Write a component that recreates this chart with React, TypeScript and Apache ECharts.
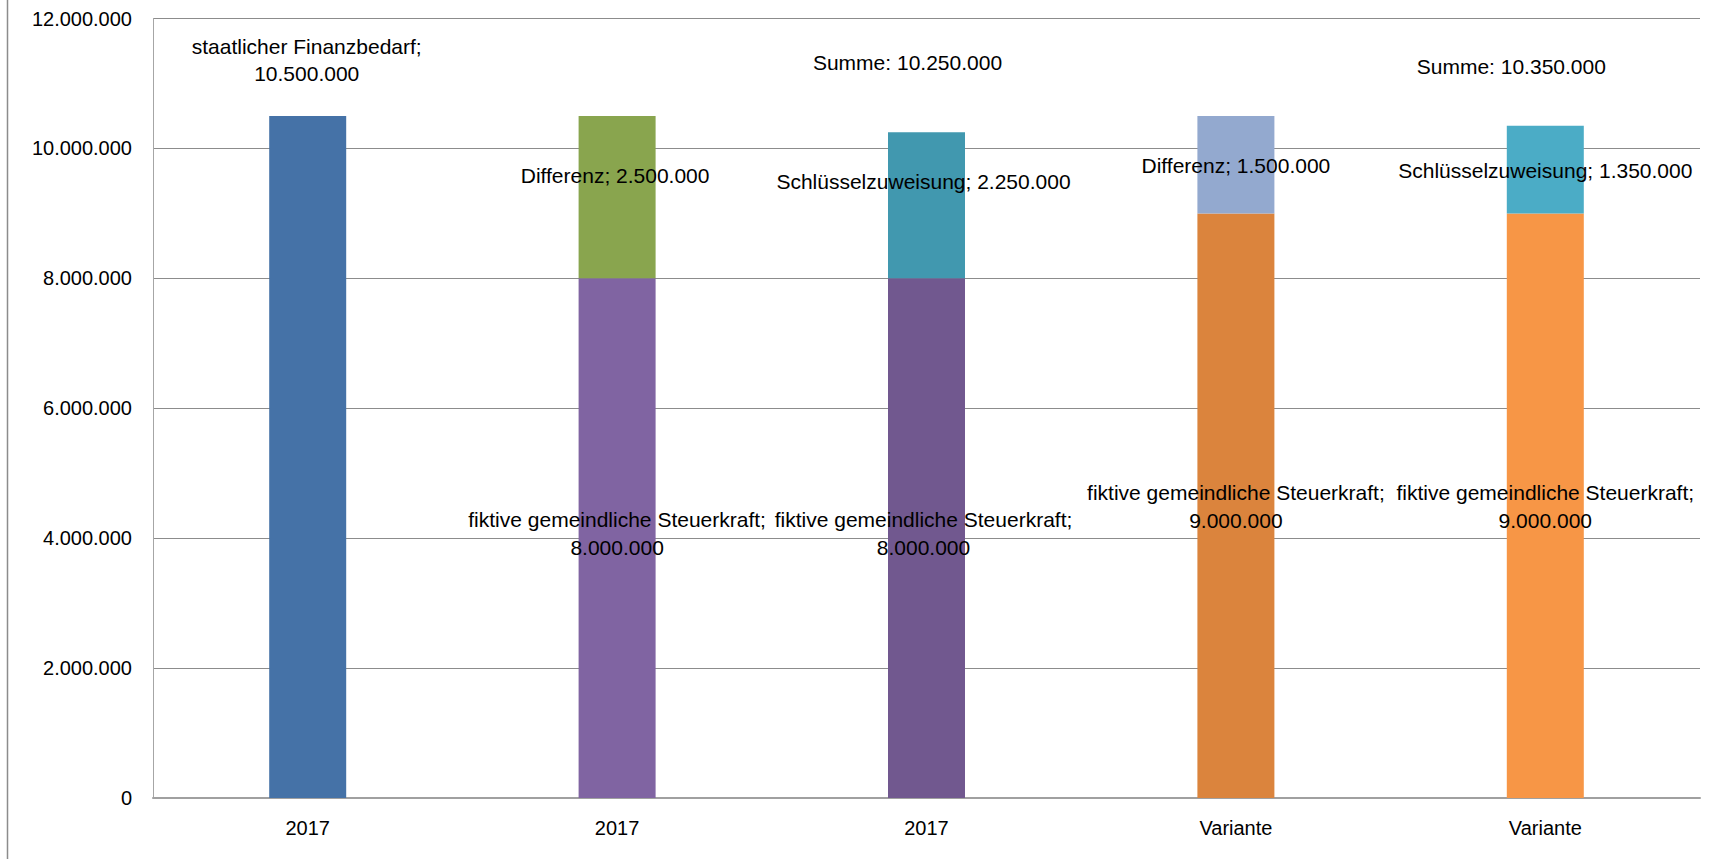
import React, { useEffect, useRef } from "react";
import * as echarts from "echarts";

const categories = ["2017", "2017", "2017", "Variante", "Variante"];

const baseNames = [
  "staatlicher Finanzbedarf",
  "fiktive gemeindliche Steuerkraft",
  "fiktive gemeindliche Steuerkraft",
  "fiktive gemeindliche Steuerkraft",
  "fiktive gemeindliche Steuerkraft",
];
const baseValues = [10500000, 8000000, 8000000, 9000000, 9000000];
const baseColors = ["#4572A7", "#8064A2", "#71588F", "#DB843D", "#F79646"];

const topNames = ["", "Differenz", "Schlüsselzuweisung", "Differenz", "Schlüsselzuweisung"];
const topValues: (number | null)[] = [null, 2500000, 2250000, 1500000, 1350000];
const topColors = ["#4572A7", "#89A54E", "#4198AF", "#93A9CF", "#4BACC6"];

const sumShown = [false, false, true, false, true];

const yTicks = [0, 2000000, 4000000, 6000000, 8000000, 10000000, 12000000];

const FONT = "'Liberation Sans', Arial, sans-serif";

const fmt = (v: number) => String(Math.round(v)).replace(/\B(?=(\d{3})+(?!\d))/g, ".");

const baseLabelOffsets: [number, number][] = [[-1, 0], [0, -5], [-3, -5], [0, 1], [0, 1]];
const topLabelOffsets: [number, number][] = [[0, 0], [-2, -22], [-3, -24], [0, 1], [0, 1]];
const sumLabelOffsets: [number, number][] = [[0, 0], [0, 0], [-19, -70], [0, 0], [-34, -59]];

export default function App() {
  const ref = useRef<HTMLDivElement>(null);
  useEffect(() => {
    if (!ref.current) return;
    const chart = echarts.init(ref.current, undefined, { renderer: "svg" });
    const labelBase = { color: "#000", fontFamily: FONT, fontSize: 21 };

    const baseData = baseValues.map((v, i) => ({
      value: v,
      itemStyle: { color: baseColors[i] },
      label:
        i === 0
          ? {
              show: true,
              position: "top",
              distance: 29,
              offset: baseLabelOffsets[i],
              formatter: `${baseNames[i]};\n${fmt(v)}`,
              lineHeight: 27,
              ...labelBase,
            }
          : {
              show: true,
              position: "inside",
              offset: baseLabelOffsets[i],
              formatter: `${baseNames[i]};\n${fmt(v)}`,
              lineHeight: 28,
              ...labelBase,
            },
    }));

    const topData = topValues.map((v, i) =>
      v == null
        ? "-"
        : {
            value: v,
            itemStyle: { color: topColors[i] },
            label: {
              show: true,
              position: "inside",
              offset: topLabelOffsets[i],
              formatter: `${topNames[i]}; ${fmt(v)}`,
              ...labelBase,
            },
          }
    );

    const sumData = baseValues.map((b, i) => {
      if (!sumShown[i]) return "-";
      const total = b + (topValues[i] || 0);
      return {
        value: total,
        label: {
          show: true,
          position: "inside",
          offset: sumLabelOffsets[i],
          formatter: `Summe: ${fmt(total)}`,
          ...labelBase,
        },
      };
    });

    chart.setOption({
      animation: false,
      backgroundColor: "#fff",
      grid: { left: 153, right: 26, top: 18.5, bottom: 61, containLabel: false },
      xAxis: {
        type: "category",
        data: categories,
        axisLine: { show: true, lineStyle: { color: "#A0A0A0", width: 2 } },
        axisTick: { show: false },
        axisLabel: { color: "#000", fontFamily: FONT, fontSize: 20, margin: 20 },
        splitLine: { show: false },
      },
      yAxis: {
        type: "value",
        min: yTicks[0],
        max: yTicks[yTicks.length - 1],
        interval: yTicks[1] - yTicks[0],
        axisLine: { show: true, lineStyle: { color: "#A6A6A6", width: 1 } },
        axisTick: { show: false },
        axisLabel: {
          color: "#000",
          fontFamily: FONT,
          fontSize: 20,
          margin: 21,
          formatter: (v: number) => fmt(v),
        },
        splitLine: { show: true, lineStyle: { color: "#8C8C8C", width: 1 } },
      },
      graphic: [
        {
          type: "line",
          shape: { x1: 7.5, y1: 0, x2: 7.5, y2: 859 },
          style: { stroke: "#8C8C8C", lineWidth: 1.5 },
          silent: true,
        },
      ],
      series: [
        {
          name: "Basis",
          type: "bar",
          stack: "a",
          barWidth: 77,
          data: baseData,
          silent: true,
        },
        {
          name: "Aufsatz",
          type: "bar",
          stack: "a",
          barWidth: 77,
          data: topData,
          silent: true,
        },
        {
          name: "Summe",
          type: "scatter",
          symbolSize: 1,
          itemStyle: { color: "rgba(255,255,255,0)", opacity: 1 },
          data: sumData,
          silent: true,
          z: 5,
        },
      ],
    });
    return () => chart.dispose();
  }, []);
  return (
    <div
      ref={ref}
      style={{ position: "fixed", left: 0, top: 0, width: 1726, height: 859, background: "#fff" }}
    />
  );
}
